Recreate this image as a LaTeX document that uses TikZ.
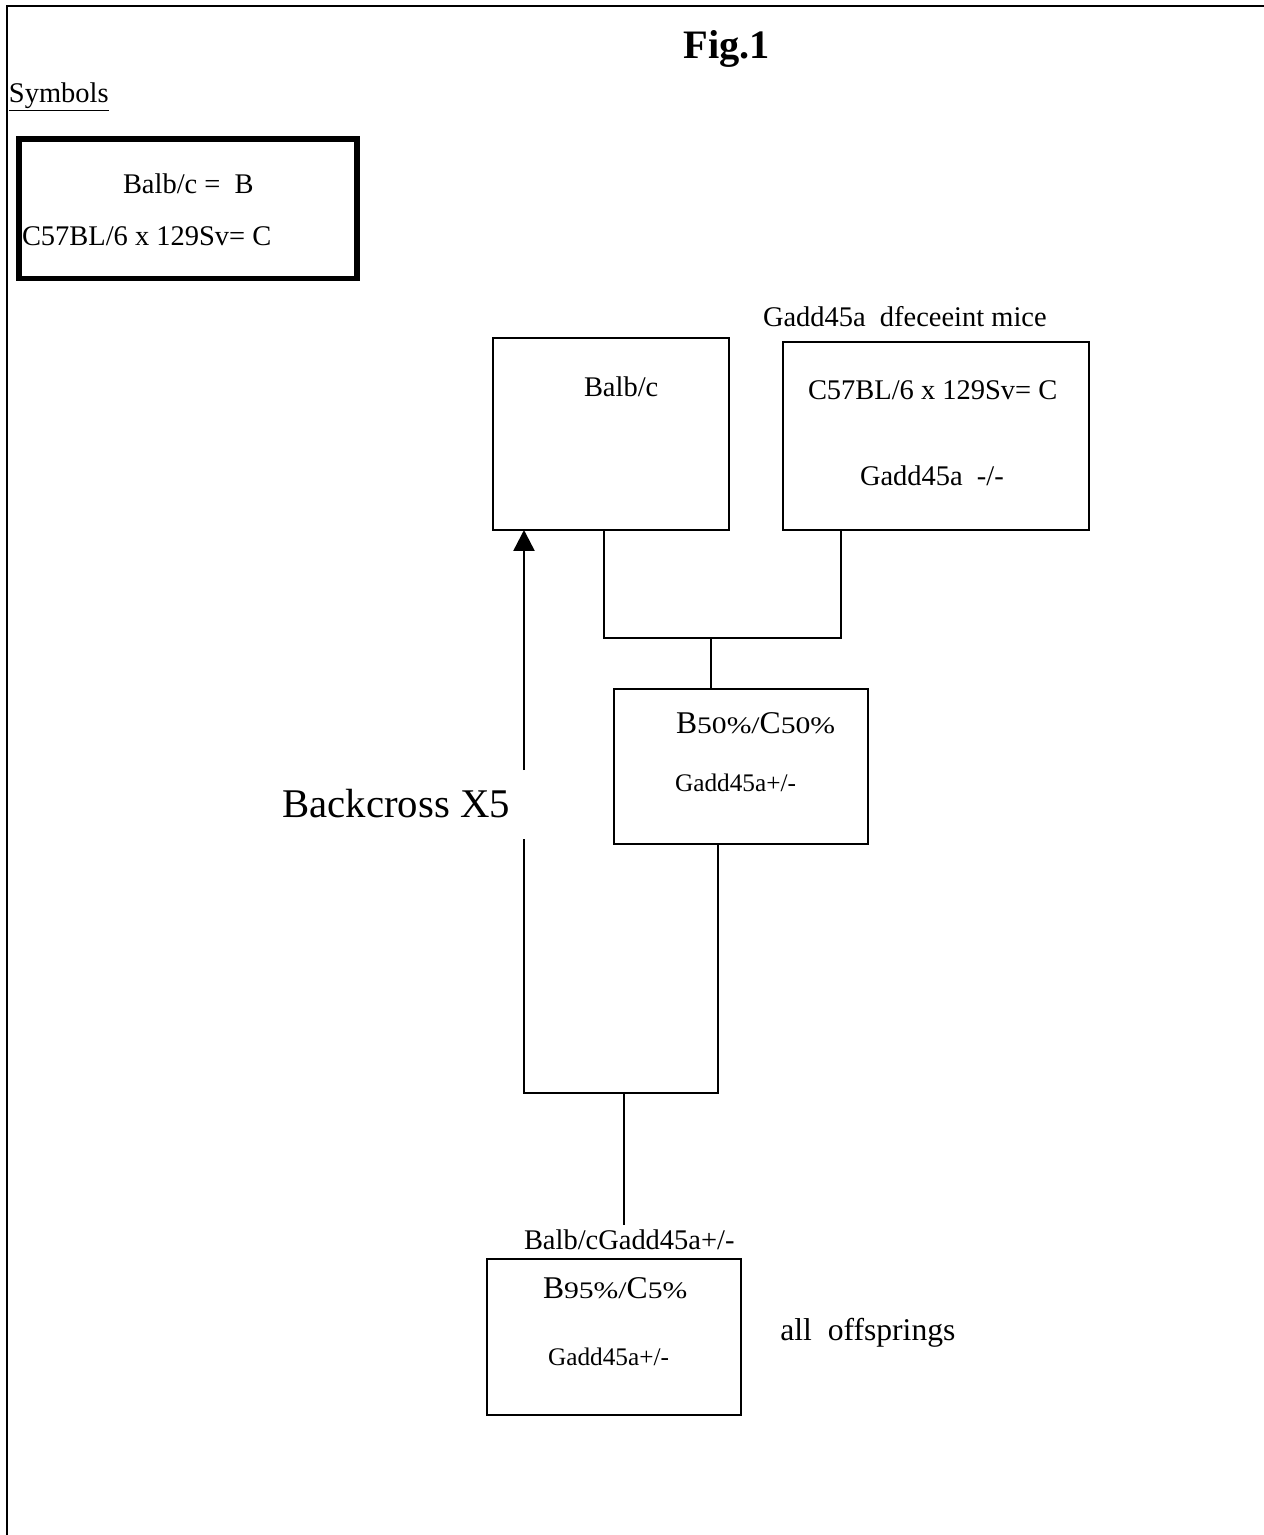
\documentclass[tikz,border=0pt]{standalone}
\usepackage{fontspec}
\setmainfont{Liberation Serif}
\usepackage{graphicx}
\usetikzlibrary{arrows.meta}
\newcommand{\fs}[1]{\fontsize{#1}{#1}\selectfont}
\newcommand{\pctx}[1]{\scalebox{1.25}[1]{\fs{13.5}#1}}
\newcommand{\bigletter}[1]{{\fs{18}#1}}
\tikzset{
  box/.style={draw, line width=1.4pt, inner sep=0pt, outer sep=0pt},
  conn/.style={line width=1.4pt},
  txt/.style={anchor=base west, inner sep=0pt, outer sep=0pt, font=\fs{16.2}},
  small/.style={anchor=base west, inner sep=0pt, outer sep=0pt, font=\fs{14.4}},
}
\begin{document}
\begin{tikzpicture}[x=0.02cm, y=-0.02cm]
\useasboundingbox (0,0) rectangle (1264,1535);
% frame
\draw[line width=1.7pt] (7,1535) -- (7,6) -- (1264,6);
% title
\node[anchor=base west, inner sep=0pt, font=\fs{23}\bfseries] (title) at (683,58) {Fig.1};
\node[txt] (symlbl) at (9,102) {\underline{Symbols}};
% symbols box
\node[draw, line width=3.4pt, inner sep=0pt, minimum width=6.78cm, minimum height=2.8cm] (sym) at (188,208.5) {};
\node[txt] (symB) at (123,193) {Balb/c =\ \ B};
\node[txt] (symC) at (22,245) {C57BL/6 x 129Sv= C};
% top boxes
\node[box, minimum width=4.72cm, minimum height=3.84cm] (balb) at (611,434) {};
\node[txt] (balbt) at (584,396) {Balb/c};
\node[txt] (gkolbl) at (763,326) {Gadd45a\ \ dfeceeint mice};
\node[box, minimum width=6.12cm, minimum height=3.76cm] (gko) at (936,436) {};
\node[txt] (gkot1) at (808,399) {C57BL/6 x 129Sv= C};
\node[txt] (gkot2) at (860,485) {Gadd45a\ \ -/-};
% F1 box
\node[box, minimum width=5.08cm, minimum height=3.1cm] (f1) at (741,766.5) {};
\node[txt] (f1t1) at (676,733) {\bigletter{B}\pctx{50\%/}\bigletter{C}\pctx{50\%}};
\node[small] (f1t2) at (675,791) {Gadd45a+/-};
% backcross label
\node[anchor=base west, inner sep=0pt, font=\fs{23.2}] (bx) at (282,817) {Backcross X5};
% bottom box
\node[txt] (bclbl) at (524,1249) {Balb/cGadd45a+/-};
\node[box, minimum width=5.08cm, minimum height=3.12cm] (f5) at (614,1337) {};
\node[txt] (f5t1) at (543,1298) {\bigletter{B}\pctx{95\%/}\bigletter{C}\pctx{5\%}};
\node[small] (f5t2) at (548,1365) {Gadd45a+/-};
\node[anchor=base west, inner sep=0pt, font=\fs{18}] (off) at (780,1340) {all\ \ offsprings};
% connectors
\coordinate (j1) at (604,638);
\coordinate (j2) at (841,638);
\coordinate (j3) at (711,638);
\coordinate (j4) at (718,1093);
\coordinate (j5) at (524,1093);
\coordinate (j6) at (624,1093);
\coordinate (gapb) at (524,839);
\coordinate (gapt) at (524,770);
\draw[conn] (balb.south -| j1) -- (j1) -- (j2) -- (gko.south -| j2);
\draw[conn] (j3) -- (f1.north -| j3);
\draw[conn] (f1.south -| j4) -- (j4) -- (j5) -- (gapb);
\draw[conn, -{Triangle[width=0.42cm, length=0.42cm]}] (gapt) -- (balb.south -| gapt);
\draw[conn] (j6) -- (624,1225);
\end{tikzpicture}
\end{document}
